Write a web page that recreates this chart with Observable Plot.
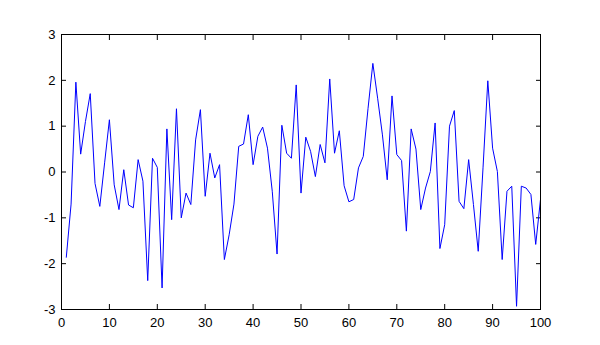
<!DOCTYPE html>
<html><head><meta charset="utf-8">
<script src="https://cdn.jsdelivr.net/npm/d3@7"></script>
<script src="https://cdn.jsdelivr.net/npm/@observablehq/plot@0.6"></script>
<style>body{margin:0;background:#fff}</style>
</head><body><div id="chart"></div>
<script>
const values = [-1.86,-0.7,1.96,0.39,1.1,1.71,-0.25,-0.75,0.2,1.14,
-0.28,-0.82,0.05,-0.72,-0.78,0.27,-0.2,-2.37,0.3,0.1,
-2.53,0.94,-1.04,1.38,-1.0,-0.46,-0.71,0.7,1.36,-0.53,
0.41,-0.13,0.16,-1.91,-1.37,-0.7,0.56,0.61,1.25,0.16,
0.78,0.98,0.52,-0.42,-1.79,1.02,0.41,0.3,1.9,-0.46,
0.76,0.45,-0.1,0.6,0.2,2.03,0.41,0.9,-0.3,-0.65,
-0.6,0.09,0.34,1.39,2.37,1.61,0.81,-0.17,1.66,0.38,
0.25,-1.29,0.94,0.5,-0.82,-0.35,0.01,1.07,-1.67,-1.15,
1.0,1.34,-0.64,-0.8,0.27,-0.71,-1.73,0.09,1.99,0.52,
0.01,-1.91,-0.42,-0.31,-2.93,-0.31,-0.35,-0.49,-1.58,-0.6];
const xTicks = [0,10,20,30,40,50,60,70,80,90,100];
const yTicks = [-3,-2,-1,0,1,2,3];

const chart = Plot.plot({
  width: 600, height: 345,
  marginLeft: 61, marginRight: 60, marginTop: 34, marginBottom: 36,
  style: {fontFamily: "Liberation Sans, Arial, sans-serif", fontSize: "13px", background: "#fff", color: "#000"},
  x: {domain: [0, 100]},
  y: {domain: [-3, 3]},
  marks: [
    Plot.axisX({anchor: "bottom", ticks: xTicks, tickFormat: d => String(d), tickSize: -5, tickPadding: 13, label: null}),
    Plot.axisX({anchor: "top", ticks: xTicks, tickSize: -5, text: null, label: null}),
    Plot.axisY({anchor: "left", ticks: yTicks, tickFormat: d => String(d), tickSize: -5, tickPadding: 11, label: null}),
    Plot.axisY({anchor: "right", ticks: yTicks, tickSize: -5, text: null, label: null}),
    Plot.line(values, {x: (d, i) => i + 1, y: d => d, stroke: "#0000ff", strokeWidth: 1}),
    Plot.frame({stroke: "#000"})
  ]
});
document.getElementById("chart").appendChild(chart);
</script></body></html>
